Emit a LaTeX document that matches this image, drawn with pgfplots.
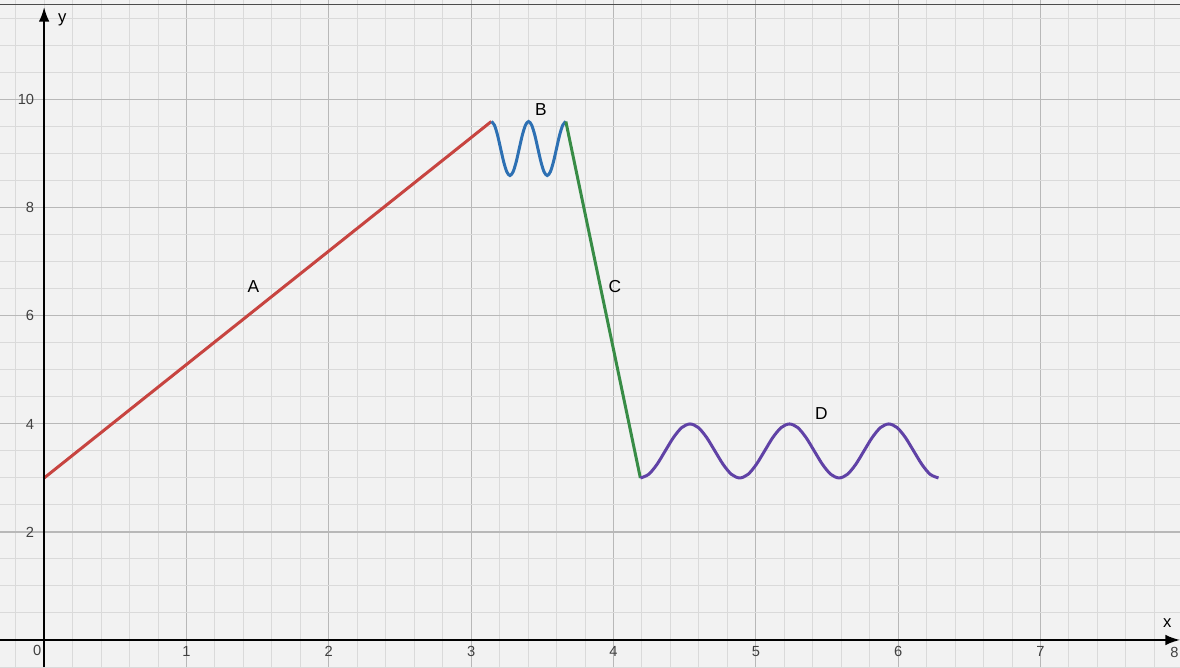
\documentclass[border=0pt]{standalone}
\usepackage{fontspec}
\setmainfont{Liberation Sans}
\usepackage{pgfplots}
\pgfplotsset{compat=1.18}
\usetikzlibrary{arrows.meta}

\definecolor{bgc}{RGB}{242,242,242}
\definecolor{majgrid}{RGB}{184,184,184}
\definecolor{mingrid}{RGB}{218,218,218}
\definecolor{cA}{HTML}{C74440}
\definecolor{cB}{HTML}{2D70B3}
\definecolor{cC}{HTML}{388C46}
\definecolor{cD}{HTML}{6042A6}

\begin{document}
\begin{tikzpicture}
\begin{axis}[
    scale only axis,
    width=885pt,
    height=500.25pt,
    xmin=-0.31, xmax=7.98,
    ymin=-0.5, ymax=11.85,
    axis lines=middle,
    axis line style={draw=none},
    axis background/.style={fill=bgc},
    xtick={1,...,7},
    ytick={2,4,6,8,10},
    minor xtick={-0.2,0,...,7.9},
    minor ytick={-0.5,0,...,11.5},
    grid=both,
    major grid style={draw=majgrid, line width=0.8pt},
    minor grid style={draw=mingrid, line width=0.75pt},
    major tick length=0pt,
    minor tick length=0pt,
    tick label style={font=\fontsize{11}{12}\selectfont, text=black!75},
    xticklabel style={anchor=north, yshift=-1pt},
    yticklabel style={anchor=east, xshift=-4pt},
    /pgf/number format/assume math mode=true,
    clip=false,
]
% segment A
\addplot[cA, line width=2.25pt] coordinates {(0,3) (3.1416,9.6)};
% segment B
\addplot[cB, line width=2.25pt, smooth] coordinates {
(3.1416,9.6) (3.1634,9.533) (3.1852,9.35) (3.2070,9.1) (3.2289,8.85) (3.2507,8.667)
(3.2725,8.6) (3.2943,8.667) (3.3161,8.85) (3.3379,9.1) (3.3598,9.35) (3.3816,9.533)
(3.4034,9.6) (3.4252,9.533) (3.4470,9.35) (3.4688,9.1) (3.4907,8.85) (3.5125,8.667)
(3.5343,8.6) (3.5561,8.667) (3.5779,8.85) (3.5997,9.1) (3.6216,9.35) (3.6434,9.533)
(3.6652,9.6)};
% segment C
\addplot[cC, line width=2.25pt] coordinates {(3.6652,9.6) (4.1888,3)};
% segment D
\addplot[cD, line width=2.25pt, smooth] coordinates {
(4.1888,3) (4.2470,3.067) (4.3051,3.25) (4.3633,3.5) (4.4215,3.75) (4.4797,3.933)
(4.5379,4) (4.5960,3.933) (4.6542,3.75) (4.7124,3.5) (4.7706,3.25) (4.8287,3.067)
(4.8869,3) (4.9451,3.067) (5.0033,3.25) (5.0615,3.5) (5.1196,3.75) (5.1778,3.933)
(5.2360,4) (5.2942,3.933) (5.3523,3.75) (5.4105,3.5) (5.4687,3.25) (5.5269,3.067)
(5.5851,3) (5.6432,3.067) (5.7014,3.25) (5.7596,3.5) (5.8178,3.75) (5.8760,3.933)
(5.9341,4) (5.9923,3.933) (6.0505,3.75) (6.1087,3.5) (6.1669,3.25) (6.2250,3.067)
(6.2832,3)};

% axes
\draw[line width=1.5pt, -{Latex[length=11pt,width=8pt]}] (axis cs:-0.31,0) -- (axis cs:7.98,0);
\draw[line width=1.5pt, -{Latex[length=11pt,width=8pt]}] (axis cs:0,-0.5) -- (axis cs:0,11.72);
\draw[black!70, line width=0.9pt] (axis cs:-0.31,11.76) -- (axis cs:7.98,11.76);

\node[font=\fontsize{12.5}{14}\selectfont] at (axis cs:0.127,11.48) {y};
\node[font=\fontsize{12.5}{14}\selectfont] at (axis cs:7.89,0.31) {x};
\node[anchor=north east, font=\fontsize{11}{12}\selectfont, text=black!75, inner sep=2pt, yshift=-2pt] at (axis cs:0,0) {0};
\node[anchor=north east, font=\fontsize{11}{12}\selectfont, text=black!75, inner sep=1pt, yshift=-4pt] at (axis cs:7.98,0) {8};

\node[font=\fontsize{13}{14}\selectfont] at (axis cs:1.47,6.54) {A};
\node[font=\fontsize{13}{14}\selectfont] at (axis cs:3.49,9.83) {B};
\node[font=\fontsize{13}{14}\selectfont] at (axis cs:4.01,6.54) {C};
\node[font=\fontsize{13}{14}\selectfont] at (axis cs:5.46,4.20) {D};

\coordinate (bl) at (rel axis cs:0,0);
\coordinate (tr) at (rel axis cs:1,1);
\end{axis}
\pgfresetboundingbox
\useasboundingbox (bl) rectangle (tr);
\end{tikzpicture}
\end{document}
